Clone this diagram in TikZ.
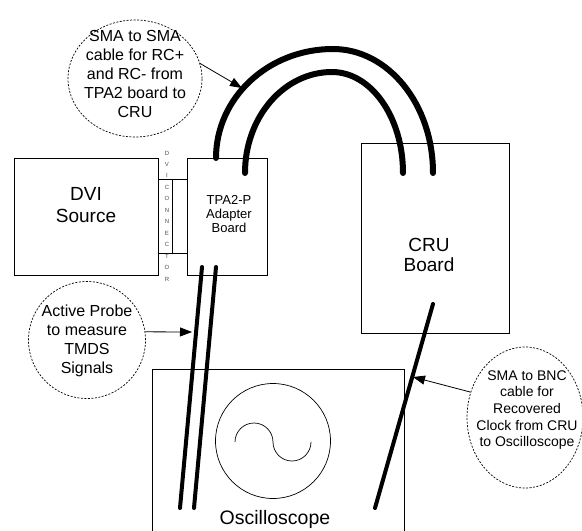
\documentclass[tikz,border=0pt]{standalone}
\usepackage{fontspec}
\setmainfont{Liberation Sans}
\usetikzlibrary{arrows.meta,shapes.geometric}
\begin{document}
\begin{tikzpicture}[x=1pt,y=-1pt,
  box/.style={draw=black,line width=0.8pt,rectangle,inner sep=0pt},
  bubble/.style={draw,ellipse,dash pattern=on 2pt off 1.5pt,line width=0.7pt,inner sep=0pt},
  cable/.style={line width=6pt,line cap=round},
  probe/.style={line width=4pt,line cap=round},
  note/.style={line width=0.8pt,-{Triangle[length=12pt,width=9pt]}},
  lbl/.style={align=center,inner sep=0pt}]
\useasboundingbox (0,0) rectangle (582,531);

% boxes
\node[box,minimum width=144pt,minimum height=117pt] (dvi) at (86,216.5) {};
\node[box,minimum width=80pt,minimum height=117pt] (tpa) at (227,216.5) {};
\node[box,minimum width=29pt,minimum height=74pt] (conn) at (172.5,216) {};
\draw[line width=1.5pt] (conn.north) -- (conn.south);
\node[box,minimum width=148pt,minimum height=190pt] (cru) at (435,238) {};
\draw[line width=0.8pt] (152,540) |- (404,369) -- (404,540);

% labels
\node[lbl,font=\fontsize{19}{22.7}\selectfont] (dvitxt) at (86,205) {DVI\\Source};
\node[lbl,font=\fontsize{13}{14.2}\selectfont] (tpatxt) at (229,214) {TPA2-P\\Adapter\\Board};
\node[lbl,font=\fontsize{19}{20}\selectfont] (crutxt) at (429,254.5) {CRU\\Board};
\node[lbl,font=\fontsize{6}{11.45}\selectfont,text=black!70] (conntxt) at (167,216) {D\\V\\I\\C\\O\\N\\N\\E\\C\\T\\O\\R};
\node[lbl,font=\fontsize{19.5}{22}\selectfont,anchor=base] (osctxt) at (275,524) {Oscilloscope};

% oscilloscope screen
\node[circle,draw,line width=0.7pt,minimum size=115pt,inner sep=0pt] (screen) at (273,441) {};
\draw[line width=0.7pt] (235,442) arc (180:360:19) arc (180:0:19);

% cables SMA-SMA
\coordinate (o1) at (216,158); \coordinate (o2) at (433,173);
\coordinate (i1) at (245,173); \coordinate (i2) at (403,173);
\draw[cable] (o1) .. controls (216,98) and (268,49) .. (333,49) .. controls (388,49) and (433,104) .. (o2);
\draw[cable] (i1) .. controls (245,117) and (284,72) .. (332,72) .. controls (371,72) and (403,117) .. (i2);

% probe
\coordinate (p1a) at (202,267); \coordinate (p1b) at (180,508);
\coordinate (p2a) at (216,267); \coordinate (p2b) at (194,508);
\draw[probe] (p1a) -- (p1b);
\draw[probe] (p2a) -- (p2b);

% SMA to BNC
\coordinate (c1) at (433,304); \coordinate (c2) at (375,508);
\draw[probe] (c1) -- (c2);

% bubbles
\node[bubble,minimum width=134pt,minimum height=117pt] (b1) at (135,78.5) {};
\node[lbl,font=\fontsize{16}{19}\selectfont] (b1txt) at (135,74) {SMA to SMA\\cable for RC+\\and RC- from\\TPA2 board to\\CRU};
\node[bubble,minimum width=117pt,minimum height=117pt] (b2) at (87,340) {};
\node[lbl,font=\fontsize{16}{19}\selectfont] (b2txt) at (87,340.7) {Active Probe\\to measure\\TMDS\\Signals};
\node[bubble,minimum width=116pt,minimum height=141pt] (b3) at (525,417.5) {};
\node[lbl,font=\fontsize{14}{16.7}\selectfont] (b3txt) at (527,410) {SMA to BNC\\cable for\\Recovered\\Clock from CRU\\to Oscilloscope};

% arrows
\coordinate (a1) at (242,88);
\coordinate (a2) at (192,332);
\coordinate (a3) at (413,377);
\draw[note] (b1.13) -- (a1);
\draw[note] (b2.8) -- (a2);
\draw[note] (b3.155) -- (a3);
\end{tikzpicture}
\end{document}
